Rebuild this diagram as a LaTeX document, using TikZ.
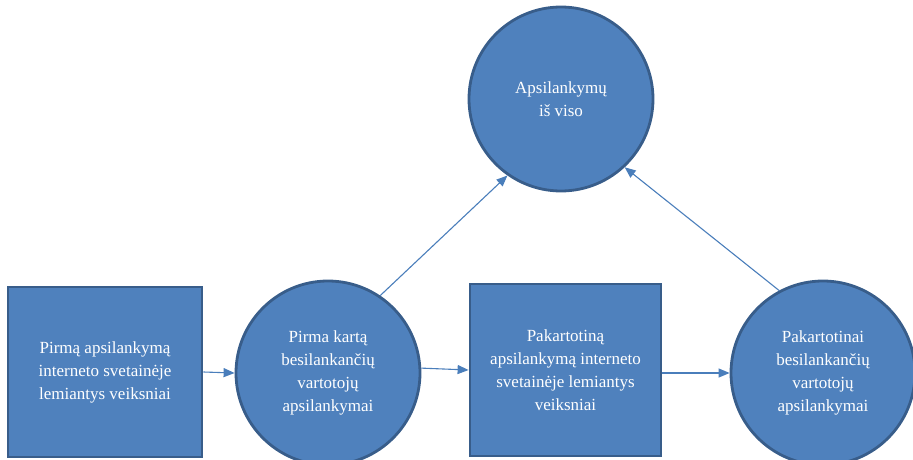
\documentclass[tikz,border=0pt]{standalone}
\usepackage{fontspec}
\setmainfont{Liberation Serif}
\usetikzlibrary{arrows.meta}
\definecolor{shapefill}{HTML}{4F81BD}
\definecolor{shapeline}{HTML}{385D8A}
\definecolor{linkcol}{HTML}{4A7EBB}
\begin{document}
\begin{tikzpicture}[x=1pt,y=1pt,
  txt/.style={text=white,align=center,font=\fontsize{17}{23}\selectfont},
  factor/.style={txt,draw=shapeline,fill=shapefill,line width=2.8pt,
    rectangle,inner sep=0pt},
  visits/.style={txt,draw=shapeline,fill=shapefill,line width=2.8pt,
    circle,minimum size=184pt,inner sep=0pt},
  link/.style={draw=linkcol,line width=1.1pt,
    -{Triangle[length=11pt,width=9pt]}}]
\useasboundingbox (0,0) rectangle (913,459);
% factor boxes
\node[factor,minimum width=194pt,minimum height=170pt] (b1) at (105,87)
  {Pirmą apsilankymą\\interneto svetainėje\\lemiantys veiksniai};
\node[factor,minimum width=191pt,minimum height=172pt] (b2) at (565.5,89)
  {Pakartotiną\\apsilankymą interneto\\svetainėje lemiantys\\veiksniai};
% visit circles
\node[visits] (c2) at (328,86)
  {Pirma kartą\\besilankančių\\vartotojų\\apsilankymai};
\node[visits] (c3) at (561,360) {Apsilankymų\\iš viso};
\node[visits] (c4) at (823,86)
  {Pakartotinai\\besilankančių\\vartotojų\\apsilankymai};
% connectors
\draw[link] (b1.east) -- (c2.west);
\draw[link] (c2.3) -- (b2.west);
\draw[link] (c4.west -| b2.east) -- (c4.west);
\draw[link] (c2.56) -- (c3.235);
\draw[link] (c4.118) -- (c3.-47);
\end{tikzpicture}
\end{document}
